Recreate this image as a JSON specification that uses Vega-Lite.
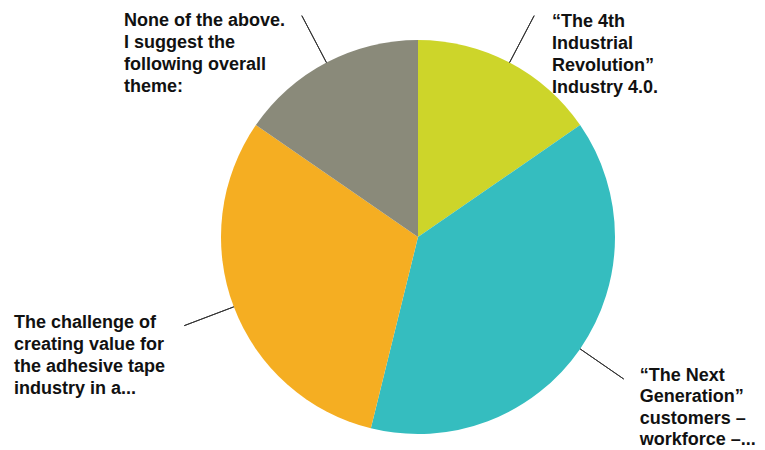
{
  "$schema": "https://vega.github.io/schema/vega-lite/v6.json",
  "width": 394,
  "height": 394,
  "autosize": {"type": "none"},
  "padding": {"left": 221, "top": 40, "right": 150, "bottom": 16},
  "background": "white",
  "config": {"view": {"stroke": null}},
  "data": {
    "values": [
      {"order": 1, "key": "rev", "count": 2, "label": ["“The 4th", "Industrial", "Revolution”", "Industry 4.0."]},
      {"order": 2, "key": "next", "count": 5, "label": ["“The Next", "Generation”", "customers –", "workforce –..."]},
      {"order": 3, "key": "chal", "count": 4, "label": ["The challenge of", "creating value for", "the adhesive tape", "industry in a..."]},
      {"order": 4, "key": "none", "count": 2, "label": ["None of the above.", "I suggest the", "following overall", "theme:"]}
    ]
  },
  "encoding": {
    "theta": {"field": "count", "type": "quantitative", "stack": true},
    "order": {"field": "order", "type": "quantitative"}
  },
  "layer": [
    {
      "mark": {"type": "arc", "radius": 197},
      "encoding": {
        "color": {
          "field": "key",
          "type": "nominal",
          "scale": {"domain": ["rev", "next", "chal", "none"], "range": ["#CDD52A", "#35BDBF", "#F5AE22", "#8A8A7A"]},
          "legend": null
        }
      }
    },
    {
      "mark": {"type": "arc", "radius": 250, "radius2": 197, "padAngle": 3, "filled": false, "stroke": "#333333", "strokeWidth": 1}
    },
    {
      "mark": {"type": "text", "radius": 250, "align": "left", "baseline": "alphabetic", "dx": 17.8, "dy": 10.9, "font": "Liberation Sans", "fontSize": 18, "fontWeight": "bold", "lineHeight": 22, "color": "#111111"},
      "encoding": {"text": {"condition": {"test": "datum.key === 'rev'", "field": "label", "type": "nominal"}, "value": ""}}
    },
    {
      "mark": {"type": "text", "radius": 250, "align": "left", "baseline": "alphabetic", "dx": 16, "dy": 1.5, "font": "Liberation Sans", "fontSize": 18, "fontWeight": "bold", "lineHeight": 21.6, "color": "#111111"},
      "encoding": {"text": {"condition": {"test": "datum.key === 'next'", "field": "label", "type": "nominal"}, "value": ""}}
    },
    {
      "mark": {"type": "text", "radius": 250, "align": "left", "baseline": "alphabetic", "dx": -170.2, "dy": 2.6, "font": "Liberation Sans", "fontSize": 18, "fontWeight": "bold", "lineHeight": 22, "color": "#111111"},
      "encoding": {"text": {"condition": {"test": "datum.key === 'chal'", "field": "label", "type": "nominal"}, "value": ""}}
    },
    {
      "mark": {"type": "text", "radius": 250, "align": "left", "baseline": "alphabetic", "dx": -177.8, "dy": 10.1, "font": "Liberation Sans", "fontSize": 18, "fontWeight": "bold", "lineHeight": 22, "color": "#111111"},
      "encoding": {"text": {"condition": {"test": "datum.key === 'none'", "field": "label", "type": "nominal"}, "value": ""}}
    }
  ]
}
